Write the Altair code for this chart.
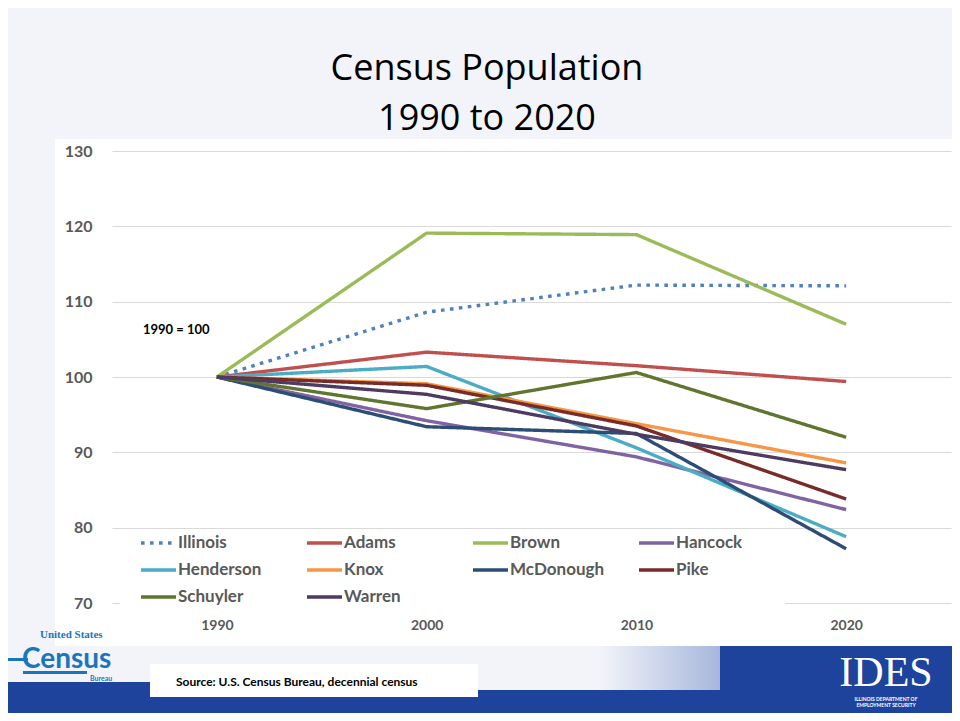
import altair as alt
import pandas as pd

# ---------------- data (index, 1990 = 100) ----------------
years = ["1990", "2000", "2010", "2020"]
series_names = ["Illinois", "Adams", "Brown", "Hancock", "Henderson",
                "Knox", "McDonough", "Pike", "Schuyler", "Warren"]
illinois = [100, 108.6, 112.2, 112.1]
adams = [100, 103.3, 101.5, 99.4]
brown = [100, 119.1, 118.9, 107.0]
hancock = [100, 94.2, 89.4, 82.4]
henderson = [100, 101.4, 90.6, 78.8]
knox = [100, 99.1, 93.8, 88.6]
mcdonough = [100, 93.4, 92.5, 77.2]
pike = [100, 98.9, 93.5, 83.8]
schuyler = [100, 95.8, 100.6, 92.0]
warren = [100, 97.7, 92.4, 87.7]
y_ticks = [70, 80, 90, 100, 110, 120, 130]

colors = ["#4F81BD", "#C0504D", "#9BBB59", "#8064A2", "#4BACC6",
          "#F79646", "#2C4D75", "#772C2A", "#5F7530", "#4D3B62"]
dashes = [[3.6, 5.4]] + [[1, 0]] * 9

all_series = [illinois, adams, brown, hancock, henderson,
              knox, mcdonough, pike, schuyler, warren]
rows = []
for name, vals in zip(series_names, all_series):
    for yr, v in zip(years, vals):
        rows.append({"series": name, "year": yr, "value": v})
df = pd.DataFrame(rows)
one = pd.DataFrame({"k": [0]})

FONT = "Lato"
GRAY = "#595959"
SLIDE = "#f2f4f9"
BLUE = "#1d439c"
CBLUE = "#1b75bc"

leg = alt.Legend(
    title=None, orient="none", legendX=27, legendY=384, columns=4,
    direction="horizontal",
    symbolType="stroke", symbolSize=1225, symbolStrokeWidth=3.4,
    clipHeight=16, labelFont=FONT, labelFontWeight="bold", labelFontSize=17,
    labelColor=GRAY, labelOffset=0, columnPadding=32, rowPadding=10,
    gridAlign="all", symbolOffset=0, padding=0,
)

lines = alt.Chart(df).mark_line(strokeWidth=3.4, strokeCap="butt", strokeJoin="round").encode(
    x=alt.X("year:O", scale=alt.Scale(type="point", padding=0.5),
            axis=alt.Axis(title=None, labelAngle=0, domain=False, ticks=False, grid=False,
                          labelPadding=15, labelFont=FONT, labelFontWeight="bold",
                          labelFontSize=14, labelColor=GRAY)),
    y=alt.Y("value:Q", scale=alt.Scale(domain=[70, 130], nice=False, zero=False),
            axis=alt.Axis(title=None, values=y_ticks, domain=False, ticks=False, grid=True,
                          gridColor="#d9d9d9", gridWidth=1, labelPadding=20, labelFont=FONT,
                          labelFontWeight="bold", labelFontSize=16, labelColor=GRAY)),
    color=alt.Color("series:N", scale=alt.Scale(domain=series_names, range=colors), legend=leg),
    strokeDash=alt.StrokeDash("series:N", scale=alt.Scale(domain=series_names, range=dashes), legend=leg),
)


def box(x1, x2, y1, y2, fill):
    return alt.Chart(one).mark_rect(fill=fill, stroke=None).encode(
        x=alt.value(x1), x2=alt.value(x2), y=alt.value(y1), y2=alt.value(y2))


def label(txt, x, y, size, color="black", weight="normal", align="left", font=FONT, baseline="middle"):
    return alt.Chart(one).mark_text(
        text=txt, fontSize=size, color=color, fontWeight=weight, align=align,
        baseline=baseline, font=font).encode(x=alt.value(x), y=alt.value(y))


grad = alt.LinearGradient(
    gradient="linear", x1=0, x2=1, y1=0, y2=0,
    stops=[alt.GradientStop(offset=0, color=SLIDE),
           alt.GradientStop(offset=0.45, color="#8fa3d3"),
           alt.GradientStop(offset=1, color=BLUE)])

deco = [
    # slide background outside the white chart box
    box(-104, 840, -143, -12, SLIDE),
    box(-104, -57, -12, 495, SLIDE),
    box(-104, 840, 495, 562, SLIDE),
    # blue banner
    box(-104, 840, 539, 562, BLUE),
    box(-104, 190, 531, 539, BLUE),
    box(488, 840, 495, 539, grad),
    box(608, 840, 495, 539, BLUE),
    # thin stripe of the swoosh through the census logo
    box(-104, -84, 507, 510, CBLUE),
    # legend white box (hides the 70 gridline)
    box(8, 673, 382, 454, "white"),
    # source box
    box(38, 366, 513, 546, "white"),
    # census logo underline
    box(-89, -25, 520, 523, CBLUE),
]

texts = [
    label("Source: U.S. Census Bureau, decennial census", 64, 531, 12, weight="bold"),
    label("1990 = 100", 31, 179, 13, weight="bold"),
    label("Census Population", 375, -71, 36, align="center", baseline="alphabetic", font="Open Sans"),
    label("1990 to 2020", 375, -21, 36, align="center", baseline="alphabetic", font="Open Sans"),
    # Census logo
    label("United States", -72, 487, 11, color=CBLUE, weight="bold", font="Liberation Serif",
          baseline="alphabetic"),
    label("Census", -90, 517, 28, color=CBLUE, weight="bold", baseline="alphabetic"),
    label("Bureau", -22, 527.5, 7, color=CBLUE, weight="bold"),
    # IDES logo
    label("IDES", 774, 535, 42, color="white", align="center", font="Liberation Serif",
          baseline="alphabetic"),
    label("ILLINOIS DEPARTMENT OF", 774, 547.5, 5, color="white", align="center", weight="bold"),
    label("EMPLOYMENT SECURITY", 774, 553.5, 5, color="white", align="center", weight="bold"),
]

chart = alt.layer(*deco, *texts, lines).properties(
    width=839, height=452,
    autosize=alt.AutoSizeParams(type="none"),
    padding={"left": 104, "top": 143, "right": 1, "bottom": 110},
    background="white",
).configure_view(stroke=None)

chart.save("out.html", embed_options={"renderer": "svg", "actions": False})
